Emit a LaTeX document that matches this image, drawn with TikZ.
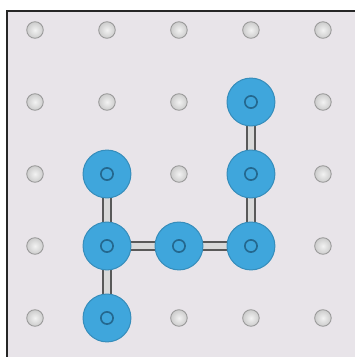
\documentclass[tikz,border=0pt]{standalone}
\definecolor{board}{HTML}{E8E4E9}
\definecolor{ringblue}{HTML}{3FA6DC}
\definecolor{ringdark}{HTML}{24688F}
\begin{document}
\begin{tikzpicture}[x=2cm,y=-2cm]
\tikzstyle{peg}=[circle,inner sep=0pt,minimum size=0.46cm,draw=gray!80,line width=0.7pt,shading=radial,inner color=gray!10,outer color=gray!40]
\tikzstyle{donut}=[circle,inner sep=0pt,minimum size=1.33cm,fill=ringblue,draw=ringblue!85!black,line width=0.8pt,
  path picture={\draw[ringdark,line width=1.3pt,fill=ringblue] (path picture bounding box.center) circle (0.17cm);}]
\tikzstyle{bar}=[draw=gray!70!black,line width=1.6pt,double=gray!30,double distance=4.4pt]
\useasboundingbox (-0.486,-0.417) rectangle (4.444,4.542);
\fill[white] (-0.486,-0.417) rectangle (4.444,4.542);
\fill[board] (-0.389,-0.264) rectangle (4.444,4.542);
\draw[gray!30!black,line width=1.2pt] (-0.389,4.542) -- (-0.389,-0.264) -- (4.444,-0.264);
\foreach \i in {0,...,4}
  \foreach \j in {0,...,4}
    \node[peg] (p-\i-\j) at (\i,\j) {};
\draw[bar] (p-3-1) -- (p-3-2);
\draw[bar] (p-3-2) -- (p-3-3);
\draw[bar] (p-1-2) -- (p-1-3);
\draw[bar] (p-1-3) -- (p-2-3);
\draw[bar] (p-2-3) -- (p-3-3);
\draw[bar] (p-1-3) -- (p-1-4);
\foreach \i/\j in {3/1,1/2,3/2,1/3,2/3,3/3,1/4}
  \node[donut] (b-\i-\j) at (p-\i-\j) {};
\end{tikzpicture}
\end{document}
